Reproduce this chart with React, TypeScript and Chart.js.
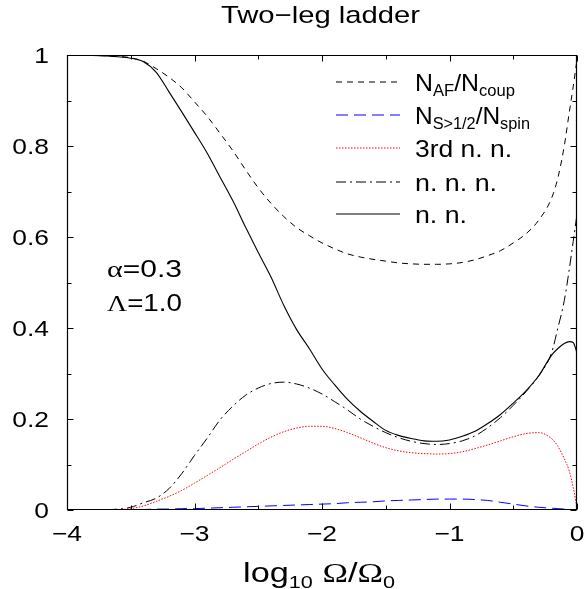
import React, { useEffect, useRef } from "react";
import { Chart, registerables } from "chart.js";

Chart.register(...registerables);

// ---- data ----
const X_VALUES = [-4.0, -3.8, -3.6, -3.5, -3.4, -3.3, -3.2, -3.1, -3.0, -2.9, -2.8, -2.7, -2.6, -2.5, -2.4, -2.3, -2.2, -2.1, -2.0, -1.9, -1.8, -1.7, -1.6, -1.5, -1.4, -1.3, -1.2, -1.1, -1.0, -0.9, -0.8, -0.7, -0.6, -0.5, -0.4, -0.3, -0.2, -0.15, -0.1, -0.06, -0.03, 0];
const N_AF = [1.0, 0.999, 0.997, 0.994, 0.986, 0.97, 0.951, 0.928, 0.897, 0.865, 0.828, 0.79, 0.748, 0.708, 0.674, 0.645, 0.621, 0.603, 0.587, 0.574, 0.563, 0.556, 0.551, 0.547, 0.543, 0.541, 0.54, 0.54, 0.541, 0.544, 0.55, 0.559, 0.57, 0.587, 0.607, 0.637, 0.685, 0.73, 0.8, 0.875, 0.93, 0.99];
const N_S = [0, 0, 0, 0.001, 0.001, 0.002, 0.002, 0.003, 0.003, 0.004, 0.005, 0.006, 0.007, 0.008, 0.009, 0.01, 0.011, 0.012, 0.013, 0.014, 0.016, 0.017, 0.018, 0.02, 0.021, 0.022, 0.023, 0.024, 0.024, 0.024, 0.023, 0.021, 0.017, 0.013, 0.009, 0.006, 0.004, 0.003, 0.002, 0.001, 0.0005, 0];
const THIRD_NN = [0, 0, 0.001, 0.003, 0.009, 0.019, 0.03, 0.043, 0.059, 0.076, 0.093, 0.111, 0.128, 0.145, 0.16, 0.172, 0.18, 0.184, 0.184, 0.179, 0.17, 0.159, 0.147, 0.137, 0.13, 0.126, 0.124, 0.123, 0.124, 0.128, 0.135, 0.143, 0.152, 0.161, 0.168, 0.17, 0.157, 0.14, 0.113, 0.085, 0.05, 0.005];
const NNN = [0, 0, 0.002, 0.006, 0.016, 0.026, 0.047, 0.08, 0.12, 0.158, 0.198, 0.228, 0.252, 0.268, 0.278, 0.281, 0.277, 0.268, 0.255, 0.238, 0.22, 0.2, 0.184, 0.17, 0.159, 0.151, 0.146, 0.144, 0.146, 0.152, 0.163, 0.181, 0.203, 0.23, 0.26, 0.295, 0.345, 0.4, 0.46, 0.53, 0.59, 0.65];
const NN = [1.0, 0.999, 0.996, 0.993, 0.985, 0.962, 0.919, 0.875, 0.83, 0.784, 0.732, 0.68, 0.622, 0.566, 0.512, 0.45, 0.397, 0.355, 0.31, 0.275, 0.243, 0.217, 0.195, 0.175, 0.164, 0.157, 0.152, 0.151, 0.154, 0.162, 0.173, 0.19, 0.21, 0.235, 0.262, 0.295, 0.34, 0.355, 0.366, 0.37, 0.368, 0.345];

const X_TICKS = [-4, -3, -2, -1, 0];
const X_TICK_LABELS = ["\u22124", "\u22123", "\u22122", "\u22121", "0"];
const Y_TICKS = [0, 0.2, 0.4, 0.6, 0.8, 1];
const Y_TICK_LABELS = ["0", "0.2", "0.4", "0.6", "0.8", "1"];

const TITLE = "Two\u2212leg ladder";
const SERIES_LABELS = ["N_AF/N_coup", "N_S>1/2/N_spin", "3rd n. n.", "n. n. n.", "n. n."];

const SANS = '"Liberation Sans", Arial, Helvetica, sans-serif';
const SERIF = '"Liberation Serif", "Times New Roman", serif';

type Seg = { t: string; size: number; dy?: number; font?: string };

function drawRich(
  ctx: CanvasRenderingContext2D,
  segs: Seg[],
  x: number,
  y: number,
  align: "left" | "center" | "right",
  sx: number,
  width?: number
) {
  let total = 0;
  const ws = segs.map((s) => {
    ctx.font = `${s.size}px ${s.font || SANS}`;
    const w = ctx.measureText(s.t).width;
    total += w;
    return w;
  });
  const k = width ? width / total : sx;
  const span = total * k;
  const start = align === "center" ? x - span / 2 : align === "right" ? x - span : x;
  ctx.save();
  ctx.translate(start, y);
  ctx.scale(k, 1);
  ctx.textAlign = "left";
  ctx.textBaseline = "alphabetic";
  ctx.fillStyle = "#000";
  let cx = 0;
  segs.forEach((s, i) => {
    ctx.font = `${s.size}px ${s.font || SANS}`;
    ctx.fillText(s.t, cx, s.dy || 0);
    cx += ws[i];
  });
  ctx.restore();
}

const STYLES = [
  { color: "#000000", dash: [6, 5], width: 1 },
  { color: "#0000ff", dash: [12, 6], width: 1 },
  { color: "#ff0000", dash: [1.5, 1.5], width: 1 },
  { color: "#000000", dash: [10, 4, 2, 4], width: 1 },
  { color: "#000000", dash: [] as number[], width: 1.1 },
];

function legendSegs(i: number): Seg[] {
  const L = 24;
  const S = 16;
  if (i === 0)
    return [
      { t: "N", size: L },
      { t: "AF", size: S, dy: 5 },
      { t: "/N", size: L },
      { t: "coup", size: S, dy: 5 },
    ];
  if (i === 1)
    return [
      { t: "N", size: L },
      { t: "S>1/2", size: S, dy: 5 },
      { t: "/N", size: L },
      { t: "spin", size: S, dy: 5 },
    ];
  return [{ t: SERIES_LABELS[i], size: L }];
}
const LEGEND_WIDTHS = [100, 115, 97, 82, 52];
const LEGEND_Y = [82, 115, 148, 182, 214];

const decorPlugin = {
  id: "decor",
  afterDraw(chart: any) {
    const ctx: CanvasRenderingContext2D = chart.ctx;
    const { left, right, top, bottom } = chart.chartArea;
    const xs = chart.scales.x;
    const ys = chart.scales.y;
    ctx.save();
    ctx.strokeStyle = "#000";
    ctx.lineWidth = 1.2;
    ctx.setLineDash([]);
    const L = Math.round(left) + 0.5;
    const R = Math.round(right) - 0.5;
    const T = Math.round(top) + 0.5;
    const B = Math.round(bottom) - 0.5;
    ctx.beginPath();
    ctx.rect(L, T, R - L, B - T);
    ctx.stroke();

    // x ticks (inside, top and bottom)
    ctx.lineWidth = 1;
    ctx.beginPath();
    for (let v = -4; v <= 0.001; v += 0.5) {
      const px = Math.round(xs.getPixelForValue(v)) + 0.5;
      const len = Math.abs(v - Math.round(v)) < 1e-6 ? 6 : 4;
      ctx.moveTo(px, B);
      ctx.lineTo(px, B - len);
      ctx.moveTo(px, T);
      ctx.lineTo(px, T + len);
    }
    for (let i = 0; i <= 10; i++) {
      const v = i / 10;
      const py = Math.round(ys.getPixelForValue(v)) + 0.5;
      const len = i % 2 === 0 ? 6 : 4;
      ctx.moveTo(L, py);
      ctx.lineTo(L + len, py);
      ctx.moveTo(R, py);
      ctx.lineTo(R - len, py);
    }
    ctx.stroke();

    // tick labels
    X_TICKS.forEach((v, i) => {
      drawRich(ctx, [{ t: X_TICK_LABELS[i], size: 22 }], xs.getPixelForValue(v), 541, "center", 1.2);
    });
    Y_TICKS.forEach((v, i) => {
      drawRich(ctx, [{ t: Y_TICK_LABELS[i], size: 22 }], 49, ys.getPixelForValue(v) + 8, "right", 1.2);
    });

    // title
    drawRich(ctx, [{ t: TITLE, size: 24 }], 320.5, 23, "center", 1.15, 199);

    // axis title
    drawRich(
      ctx,
      [
        { t: "log", size: 27 },
        { t: "10", size: 17, dy: 6 },
        { t: " ", size: 27 },
        { t: "\u03A9", size: 27, font: SERIF },
        { t: "/", size: 27 },
        { t: "\u03A9", size: 27, font: SERIF },
        { t: "0", size: 17, dy: 6 },
      ],
      243,
      582,
      "left",
      1.15,
      152
    );

    // annotations
    drawRich(ctx, [{ t: "\u03B1", size: 24, font: SERIF }, { t: "=0.3", size: 24 }], 107, 277, "left", 1.2, 75);
    drawRich(ctx, [{ t: "\u039B", size: 24, font: SERIF }, { t: "=1.0", size: 24 }], 107, 311, "left", 1.2, 75);

    // legend
    STYLES.forEach((st, i) => {
      const y = LEGEND_Y[i];
      ctx.beginPath();
      ctx.strokeStyle = st.color;
      ctx.lineWidth = st.width;
      ctx.setLineDash(st.dash);
      ctx.moveTo(336, y);
      ctx.lineTo(400, y);
      ctx.stroke();
      ctx.setLineDash([]);
      drawRich(ctx, legendSegs(i), 415, LEGEND_Y[i] + 9, "left", 1.1, LEGEND_WIDTHS[i]);
    });
    ctx.restore();
  },
};

export default function App() {
  const ref = useRef<HTMLCanvasElement | null>(null);
  useEffect(() => {
    document.body.style.margin = "0";
    const canvas = ref.current;
    if (!canvas) return;
    const series = [N_AF, N_S, THIRD_NN, NNN, NN];
    const chart = new Chart(canvas, {
      type: "line",
      data: {
        datasets: series.map((arr, i) => ({
          label: SERIES_LABELS[i],
          data: X_VALUES.map((x, j) => ({ x, y: arr[j] })),
          borderColor: STYLES[i].color,
          borderWidth: STYLES[i].width,
          borderDash: STYLES[i].dash,
          pointRadius: 0,
          fill: false,
          cubicInterpolationMode: "monotone" as const,
        })),
      },
      options: {
        animation: false,
        responsive: false,
        devicePixelRatio: 1,
        layout: { padding: { left: 67, right: 7, top: 55, bottom: 79 } },
        scales: {
          x: { type: "linear", min: -4, max: 0, display: false },
          y: { type: "linear", min: 0, max: 1, display: false },
        },
        plugins: {
          legend: { display: false },
          tooltip: { enabled: false },
          title: { display: false },
        },
      },
      plugins: [decorPlugin],
    });
    return () => chart.destroy();
  }, []);
  return <canvas ref={ref} width={584} height={589} style={{ display: "block", width: 584, height: 589 }} />;
}
